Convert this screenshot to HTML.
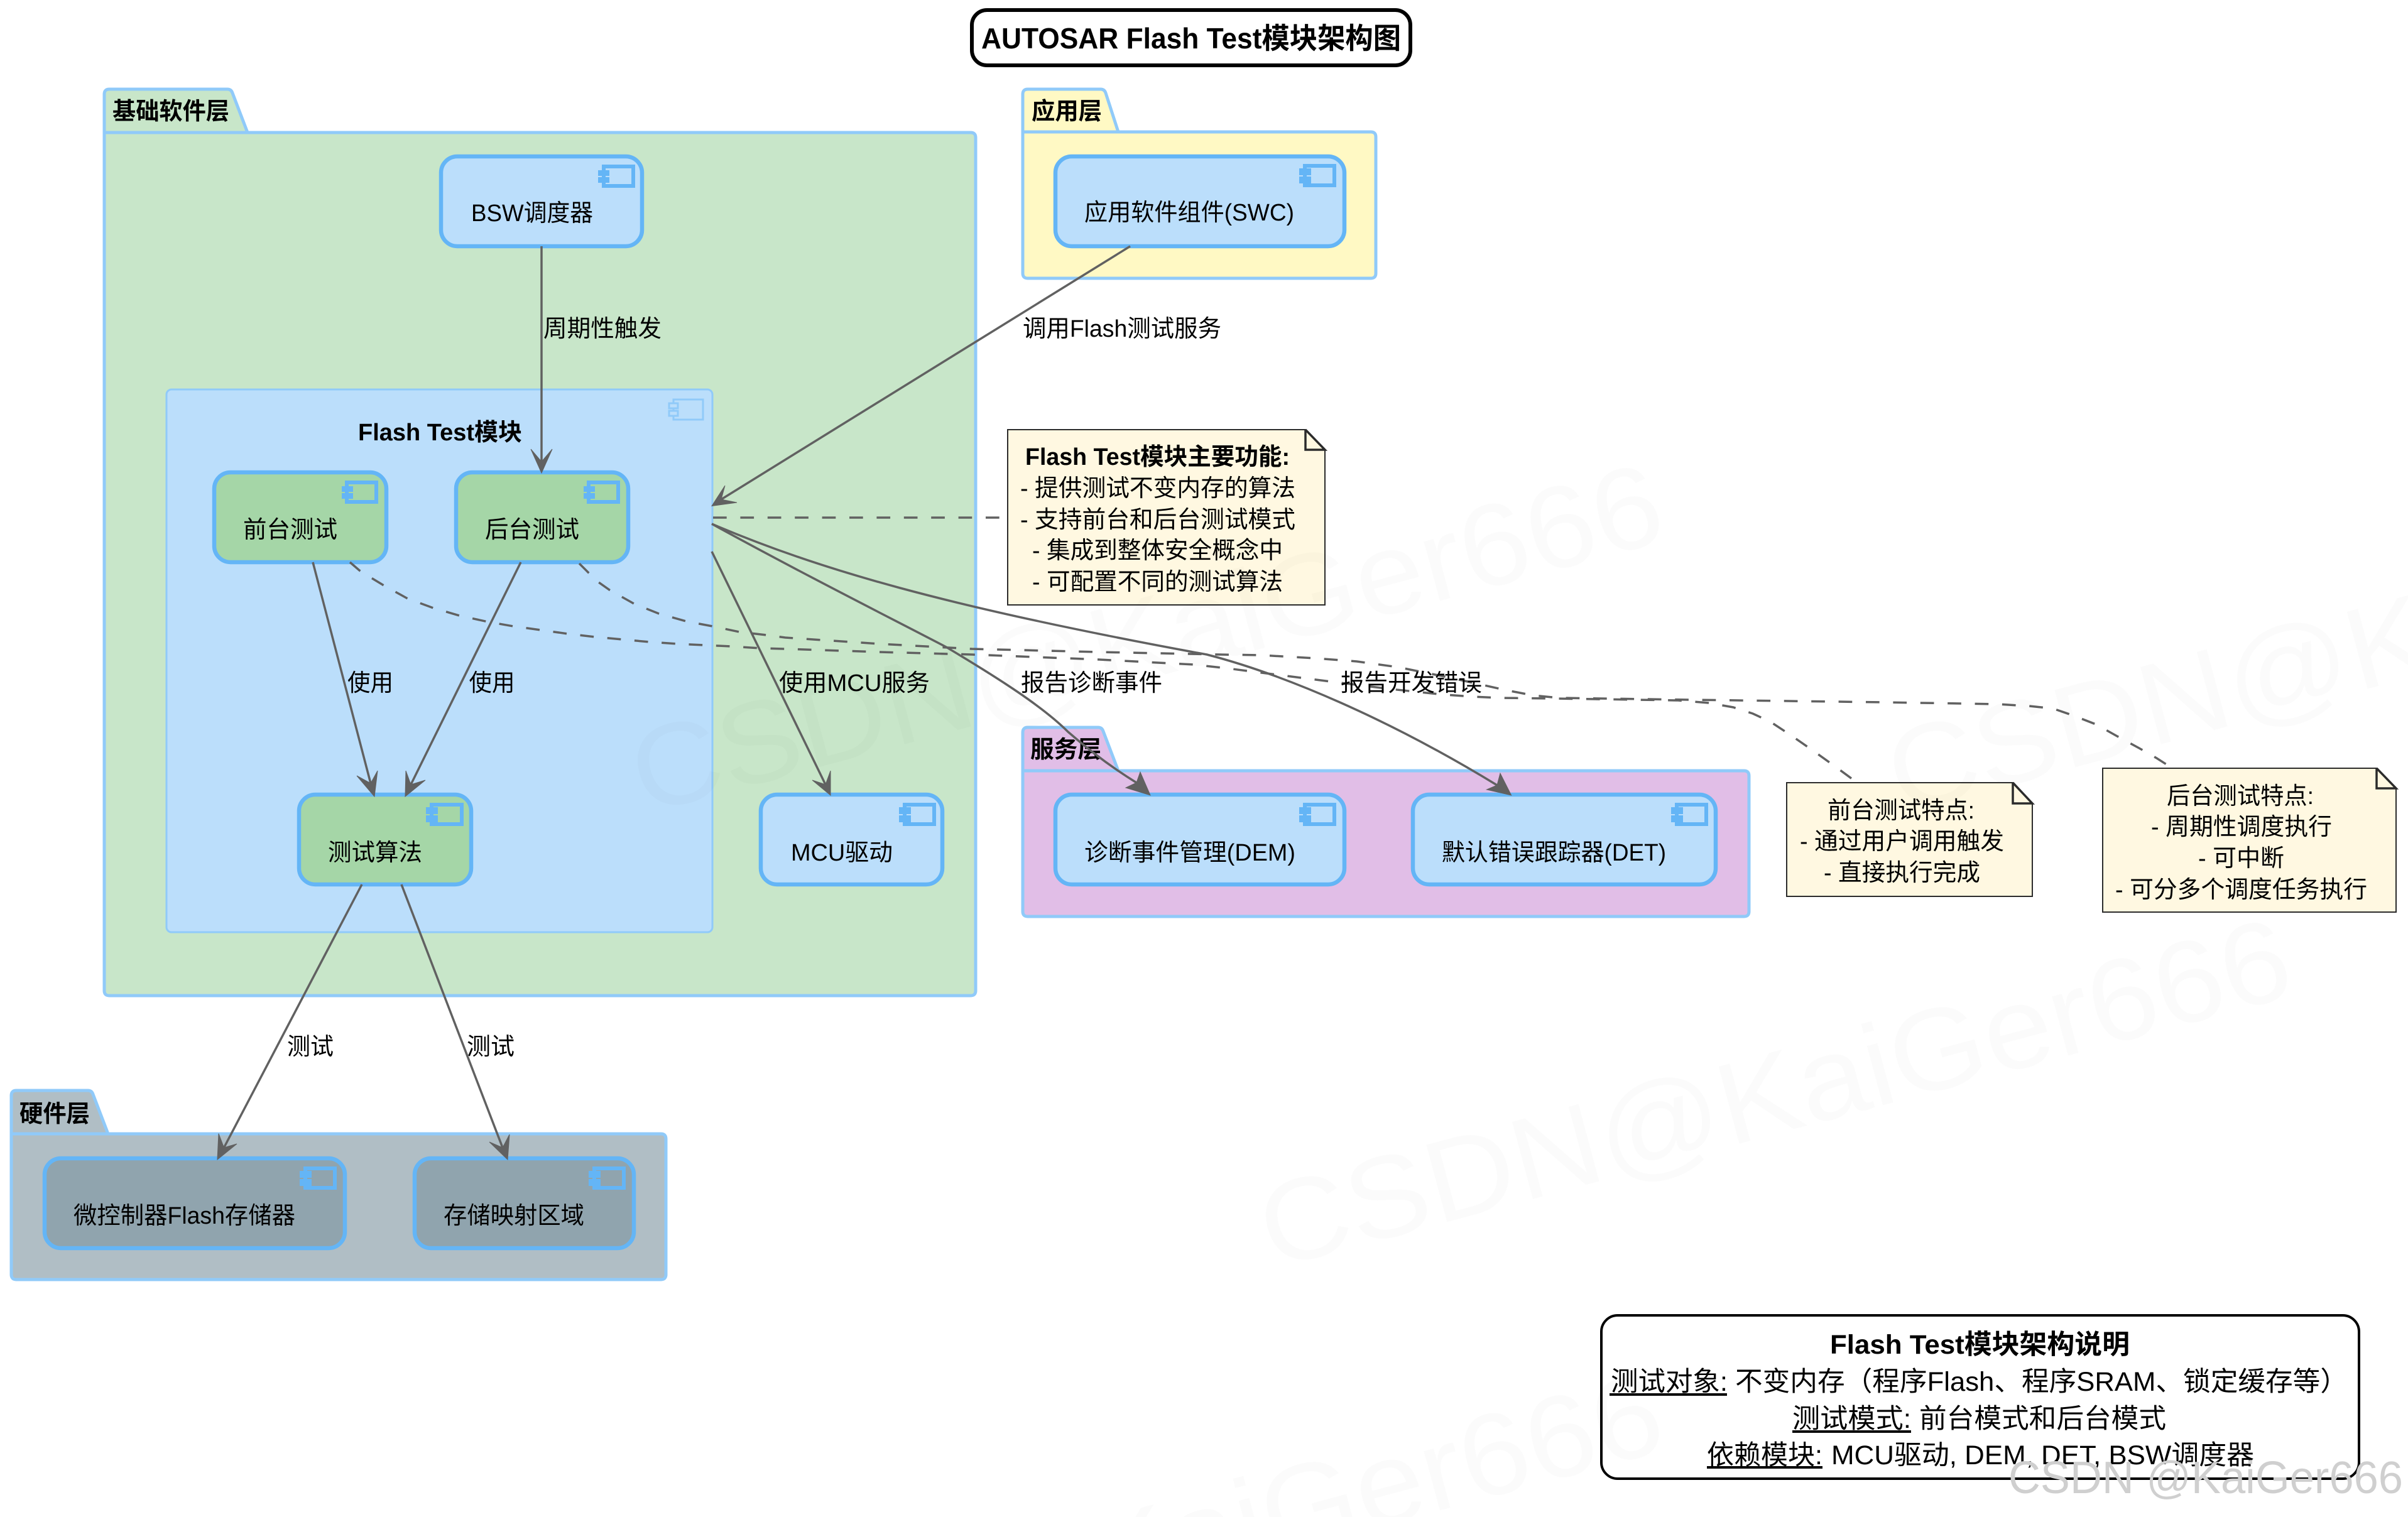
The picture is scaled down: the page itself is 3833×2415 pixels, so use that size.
<!DOCTYPE html>
<html><head><meta charset="utf-8"><style>
html,body{margin:0;padding:0;background:#fff;width:3833px;height:2415px;overflow:hidden}
svg{display:block;overflow:hidden}
text{font-family:"Liberation Sans","Noto Sans CJK SC",sans-serif;fill:#000;font-size:38px}
.b{font-weight:bold}
.pkg{stroke:#90CAF9;stroke-width:5;stroke-linejoin:round}
.c{stroke:#64B5F6;stroke-width:6.5}
.i{fill:none;stroke:#64B5F6;stroke-width:6}
.n{fill:#64B5F6}
.l{fill:none;stroke:#616161;stroke-width:3.5}
.d{fill:none;stroke:#616161;stroke-width:3.5;stroke-dasharray:21.7 21.7}
.h{fill:#616161;stroke:#616161;stroke-width:1}
.note{fill:#FFF8E1;stroke:#2b2b2b;stroke-width:2}
.wm{font-size:185px;fill:rgba(0,0,0,.014)}
</style></head><body>
<svg xmlns="http://www.w3.org/2000/svg" width="3833" height="2415" viewBox="0 0 3833 2415">
<rect width="3833" height="2415" fill="#fff"/>

<!-- Title -->
<rect x="1547" y="16" width="698" height="88" rx="24" fill="#fff" stroke="#000" stroke-width="6"/>
<text class="b" x="1562" y="77" style="font-size:46px" textLength="668" lengthAdjust="spacingAndGlyphs">AUTOSAR Flash Test模块架构图</text>

<!-- Basic software layer -->
<path class="pkg" fill="#C8E6C9" d="M166,211V150Q166,142 174,142H362Q368,142 370,148L394,211H1545Q1553,211 1553,219V1577Q1553,1585 1545,1585H174Q166,1585 166,1577Z"/>
<path class="pkg" fill="none" d="M166,211H394"/>
<text class="b" x="179" y="190" textLength="186" lengthAdjust="spacingAndGlyphs">基础软件层</text>

<!-- BSW scheduler -->
<rect class="c" x="702" y="249" width="320" height="143" rx="26" fill="#BBDEFB"/>
<rect class="i" x="961" y="265" width="47" height="31" fill="none"/>
<rect class="n" x="952" y="271" width="18" height="9"/><rect class="n" x="952" y="282" width="18" height="9"/>
<text x="750" y="352" textLength="194" lengthAdjust="spacingAndGlyphs">BSW调度器</text>

<!-- Flash Test module -->
<rect x="265" y="620" width="869" height="864" rx="8" fill="#BBDEFB" stroke="#90CAF9" stroke-width="3"/>
<rect x="1072" y="636" width="47" height="32" fill="none" stroke="#90CAF9" stroke-width="3"/>
<rect x="1065" y="642" width="14" height="8" fill="#BBDEFB" stroke="#90CAF9" stroke-width="3"/>
<rect x="1065" y="654" width="14" height="8" fill="#BBDEFB" stroke="#90CAF9" stroke-width="3"/>
<text class="b" x="570" y="701" textLength="261" lengthAdjust="spacingAndGlyphs">Flash Test模块</text>

<!-- Front test -->
<rect class="c" x="341" y="752" width="274" height="143" rx="26" fill="#A5D6A7"/>
<rect class="i" x="552" y="768" width="47" height="31"/>
<rect class="n" x="544" y="774" width="18" height="9"/><rect class="n" x="544" y="785" width="18" height="9"/>
<text x="387" y="856" textLength="150" lengthAdjust="spacingAndGlyphs">前台测试</text>

<!-- Back test -->
<rect class="c" x="726" y="752" width="274" height="143" rx="26" fill="#A5D6A7"/>
<rect class="i" x="937" y="768" width="47" height="31"/>
<rect class="n" x="929" y="774" width="18" height="9"/><rect class="n" x="929" y="785" width="18" height="9"/>
<text x="772" y="856" textLength="150" lengthAdjust="spacingAndGlyphs">后台测试</text>

<!-- Algorithm -->
<rect class="c" x="476" y="1265" width="274" height="143" rx="26" fill="#A5D6A7"/>
<rect class="i" x="687" y="1281" width="48" height="31"/>
<rect class="n" x="678" y="1285" width="19" height="11"/><rect class="n" x="678" y="1298" width="19" height="11"/>
<text x="522" y="1370" textLength="150" lengthAdjust="spacingAndGlyphs">测试算法</text>

<!-- MCU -->
<rect class="c" x="1211" y="1265" width="289" height="143" rx="26" fill="#BBDEFB"/>
<rect class="i" x="1440" y="1281" width="47" height="31"/>
<rect class="n" x="1431" y="1285" width="19" height="11"/><rect class="n" x="1431" y="1298" width="19" height="11"/>
<text x="1259" y="1370" textLength="162" lengthAdjust="spacingAndGlyphs">MCU驱动</text>

<!-- App layer -->
<path class="pkg" fill="#FFF9C4" d="M1628,210V150Q1628,142 1636,142H1752Q1758,142 1760,148L1780,210H2182Q2190,210 2190,218V435Q2190,443 2182,443H1636Q1628,443 1628,435Z"/>
<path class="pkg" fill="none" d="M1628,210H1780"/>
<text class="b" x="1642" y="190" textLength="112" lengthAdjust="spacingAndGlyphs">应用层</text>
<rect class="c" x="1680" y="249" width="460" height="143" rx="26" fill="#BBDEFB"/>
<rect class="i" x="2077" y="264" width="47" height="31"/>
<rect class="n" x="2068" y="268" width="19" height="11"/><rect class="n" x="2068" y="281" width="19" height="11"/>
<text x="1726" y="351" textLength="334" lengthAdjust="spacingAndGlyphs">应用软件组件(SWC)</text>

<!-- Service layer -->
<path class="pkg" fill="#E1BEE7" d="M1628,1227V1166Q1628,1158 1636,1158H1748Q1754,1158 1756,1164L1780,1227H2776Q2784,1227 2784,1235V1451Q2784,1459 2776,1459H1636Q1628,1459 1628,1451Z"/>
<path class="pkg" fill="none" d="M1628,1227H1780"/>
<text class="b" x="1640" y="1206" textLength="113" lengthAdjust="spacingAndGlyphs">服务层</text>
<rect class="c" x="1680" y="1265" width="460" height="143" rx="26" fill="#BBDEFB"/>
<rect class="i" x="2077" y="1281" width="47" height="31"/>
<rect class="n" x="2068" y="1285" width="19" height="11"/><rect class="n" x="2068" y="1298" width="19" height="11"/>
<text x="1726" y="1370" textLength="336" lengthAdjust="spacingAndGlyphs">诊断事件管理(DEM)</text>
<rect class="c" x="2249" y="1265" width="482" height="143" rx="26" fill="#BBDEFB"/>
<rect class="i" x="2669" y="1281" width="47" height="31"/>
<rect class="n" x="2660" y="1285" width="19" height="11"/><rect class="n" x="2660" y="1298" width="19" height="11"/>
<text x="2295" y="1370" textLength="357" lengthAdjust="spacingAndGlyphs">默认错误跟踪器(DET)</text>

<!-- Hardware layer -->
<path class="pkg" fill="#B0BEC5" d="M18,1805V1744Q18,1736 26,1736H140Q146,1736 148,1742L172,1805H1052Q1060,1805 1060,1813V2029Q1060,2037 1052,2037H26Q18,2037 18,2029Z"/>
<path class="pkg" fill="none" d="M18,1805H172"/>
<text class="b" x="31" y="1786" textLength="112" lengthAdjust="spacingAndGlyphs">硬件层</text>
<rect class="c" x="71" y="1844" width="478" height="143" rx="26" fill="#90A4AE"/>
<rect class="i" x="486" y="1860" width="47" height="31"/>
<rect class="n" x="477" y="1864" width="19" height="11"/><rect class="n" x="477" y="1877" width="19" height="11"/>
<text x="117" y="1948" textLength="353" lengthAdjust="spacingAndGlyphs">微控制器Flash存储器</text>
<rect class="c" x="660" y="1844" width="349" height="143" rx="26" fill="#90A4AE"/>
<rect class="i" x="946" y="1860" width="47" height="31"/>
<rect class="n" x="937" y="1864" width="19" height="11"/><rect class="n" x="937" y="1877" width="19" height="11"/>
<text x="706" y="1948" textLength="224" lengthAdjust="spacingAndGlyphs">存储映射区域</text>

<!-- Notes -->
<path class="note" d="M1604,684H2078L2109,716V963H1604Z"/>
<path fill="none" stroke="#2b2b2b" stroke-width="3.5" d="M2078,684V716H2109L2078,684"/>
<text class="b" x="1632" y="740" textLength="421" lengthAdjust="spacingAndGlyphs">Flash Test模块主要功能:</text>
<text x="1624" y="790" textLength="438" lengthAdjust="spacingAndGlyphs">- 提供测试不变内存的算法</text>
<text x="1624" y="840" textLength="438" lengthAdjust="spacingAndGlyphs">- 支持前台和后台测试模式</text>
<text x="1643" y="889" textLength="399" lengthAdjust="spacingAndGlyphs">- 集成到整体安全概念中</text>
<text x="1643" y="939" textLength="399" lengthAdjust="spacingAndGlyphs">- 可配置不同的测试算法</text>

<path class="note" d="M2844,1246H3204L3235,1279V1427H2844Z"/>
<path fill="none" stroke="#2b2b2b" stroke-width="3.5" d="M3204,1246V1279H3235L3204,1246"/>
<text x="2909" y="1303" textLength="234" lengthAdjust="spacingAndGlyphs">前台测试特点:</text>
<text x="2865" y="1352" textLength="325" lengthAdjust="spacingAndGlyphs">- 通过用户调用触发</text>
<text x="2903" y="1402" textLength="249" lengthAdjust="spacingAndGlyphs">- 直接执行完成</text>

<path class="note" d="M3347,1223H3783L3814,1255V1452H3347Z"/>
<path fill="none" stroke="#2b2b2b" stroke-width="3.5" d="M3783,1223V1255H3814L3783,1223"/>
<text x="3449" y="1280" textLength="234" lengthAdjust="spacingAndGlyphs">后台测试特点:</text>
<text x="3424" y="1329" textLength="288" lengthAdjust="spacingAndGlyphs">- 周期性调度执行</text>
<text x="3499" y="1379" textLength="137" lengthAdjust="spacingAndGlyphs">- 可中断</text>
<text x="3367" y="1429" textLength="401" lengthAdjust="spacingAndGlyphs">- 可分多个调度任务执行</text>

<!-- Dashed connectors -->
<path class="d" d="M1135,824H1597"/>
<polyline class="d" points="557,895 572,908 591,920 611,932 649,953 690,968 731,980 777,990 817,997 861,1003 904,1009 947,1014 991,1018 1034,1022 1078,1025 1121,1027 1164,1029 1210,1032 1250,1033 1400,1038 1547,1042 1750,1050 1900,1058 1954,1064 2040,1075 2126,1086 2214,1097 2300,1106 2344,1109 2388,1111 2474,1112 2671,1115 2720,1119 2759,1126 2790,1136 2818,1149 2850,1170 2886,1195 2925,1223 2959,1248"/>
<polyline class="d" points="922,897 937,912 953,927 970,939 1009,961 1049,977 1092,989 1134,997 1177,1006 1220,1011 1250,1015 1400,1025 1547,1033 1750,1038 1942,1042 2007,1043 2095,1048 2160,1053 2225,1062 2309,1079 2394,1098 2440,1107 2482,1111 2691,1114 3000,1118 3180,1121 3230,1124 3268,1128 3300,1139 3336,1153 3370,1172 3405,1191 3433,1207 3458,1223"/>

<!-- Solid connectors -->
<path class="l" d="M862,392V735"/>
<polygon class="h" points="862,753 845,715 862,735 879,715"/>
<path class="l" d="M1799,392L1148,795"/>
<polygon class="h" points="1133,805.5 1154,773 1148,795 1173,800"/>
<path class="l" d="M498,895L590,1247"/>
<polygon class="h" points="596,1268 568,1235 590,1247 601,1227"/>
<path class="l" d="M829,895L654,1249"/>
<polygon class="h" points="645,1268 646,1227 654,1249 677,1242"/>
<path class="l" d="M1133,878L1314,1249"/>
<polygon class="h" points="1322,1266 1322,1227 1314,1249 1293,1242"/>
<path class="l" d="M1133,834C1290,920 1420,985 1506,1030C1590,1080 1660,1125 1700,1165C1740,1200 1775,1225 1809,1246"/>
<path class="l" d="M1133,834C1300,905 1500,965 1921,1042C2045,1074 2211,1145 2383,1250"/>
<polygon class="h" points="1831,1266 1815,1229 1809,1246 1792,1254"/>
<polygon class="h" points="2405.6,1266 2388,1231 2383,1250 2366.5,1257"/>
<path class="l" d="M576,1408L356.5,1827"/>
<polygon class="h" points="346,1846 348,1804.5 356.5,1827 377,1821"/>
<path class="l" d="M639,1408L800,1827"/>
<polygon class="h" points="808,1846 811,1806 800,1827 779,1818"/>

<!-- Connector labels -->
<text x="865" y="536" textLength="188" lengthAdjust="spacingAndGlyphs">周期性触发</text>
<text x="1628" y="536" textLength="316" lengthAdjust="spacingAndGlyphs">调用Flash测试服务</text>
<text x="553" y="1100" textLength="73" lengthAdjust="spacingAndGlyphs">使用</text>
<text x="746.5" y="1100" textLength="73" lengthAdjust="spacingAndGlyphs">使用</text>
<text x="1240" y="1100" textLength="240" lengthAdjust="spacingAndGlyphs">使用MCU服务</text>
<text x="1625" y="1100" textLength="225" lengthAdjust="spacingAndGlyphs">报告诊断事件</text>
<text x="2134" y="1100" textLength="225" lengthAdjust="spacingAndGlyphs">报告开发错误</text>
<text x="457" y="1679" textLength="74" lengthAdjust="spacingAndGlyphs">测试</text>
<text x="743" y="1679" textLength="76" lengthAdjust="spacingAndGlyphs">测试</text>

<!-- Legend -->
<rect x="2549" y="2094" width="1206" height="260" rx="26" fill="#fff" stroke="#000" stroke-width="4"/>
<text class="b" x="2913" y="2155" style="font-size:43px" textLength="477" lengthAdjust="spacingAndGlyphs">Flash Test模块架构说明</text>
<text x="2564" y="2214" style="font-size:43px" textLength="186" lengthAdjust="spacingAndGlyphs">测试对象:</text>
<rect x="2562" y="2218" width="187" height="4"/>
<text x="2762" y="2214" style="font-size:43px" textLength="975" lengthAdjust="spacingAndGlyphs">不变内存（程序Flash、程序SRAM、锁定缓存等）</text>
<text x="2853" y="2273" style="font-size:43px" textLength="189" lengthAdjust="spacingAndGlyphs">测试模式:</text>
<rect x="2853" y="2277" width="189" height="4"/>
<text x="3055" y="2273" style="font-size:43px" textLength="393" lengthAdjust="spacingAndGlyphs">前台模式和后台模式</text>
<text x="2717" y="2331" style="font-size:43px" textLength="184" lengthAdjust="spacingAndGlyphs">依赖模块:</text>
<rect x="2717" y="2334" width="184" height="4"/>
<text x="2915" y="2331" style="font-size:43px" textLength="673" lengthAdjust="spacingAndGlyphs">MCU驱动, DEM, DET, BSW调度器</text>

<!-- Watermarks -->
<text class="wm" transform="translate(1025,1296) rotate(-15)" textLength="1690" lengthAdjust="spacingAndGlyphs">CSDN@KaiGer666</text>
<text class="wm" transform="translate(2025,2020) rotate(-15)" textLength="1690" lengthAdjust="spacingAndGlyphs">CSDN@KaiGer666</text>
<text class="wm" transform="translate(3025,1296) rotate(-15)" textLength="1690" lengthAdjust="spacingAndGlyphs">CSDN@KaiGer666</text>
<text class="wm" transform="translate(1025,2744) rotate(-15)" textLength="1690" lengthAdjust="spacingAndGlyphs">CSDN@KaiGer666</text>
<text x="3197" y="2377" style="font-size:72px;fill:#cfcfcf" textLength="628" lengthAdjust="spacingAndGlyphs">CSDN @KaiGer666</text>
</svg>
</body></html>
